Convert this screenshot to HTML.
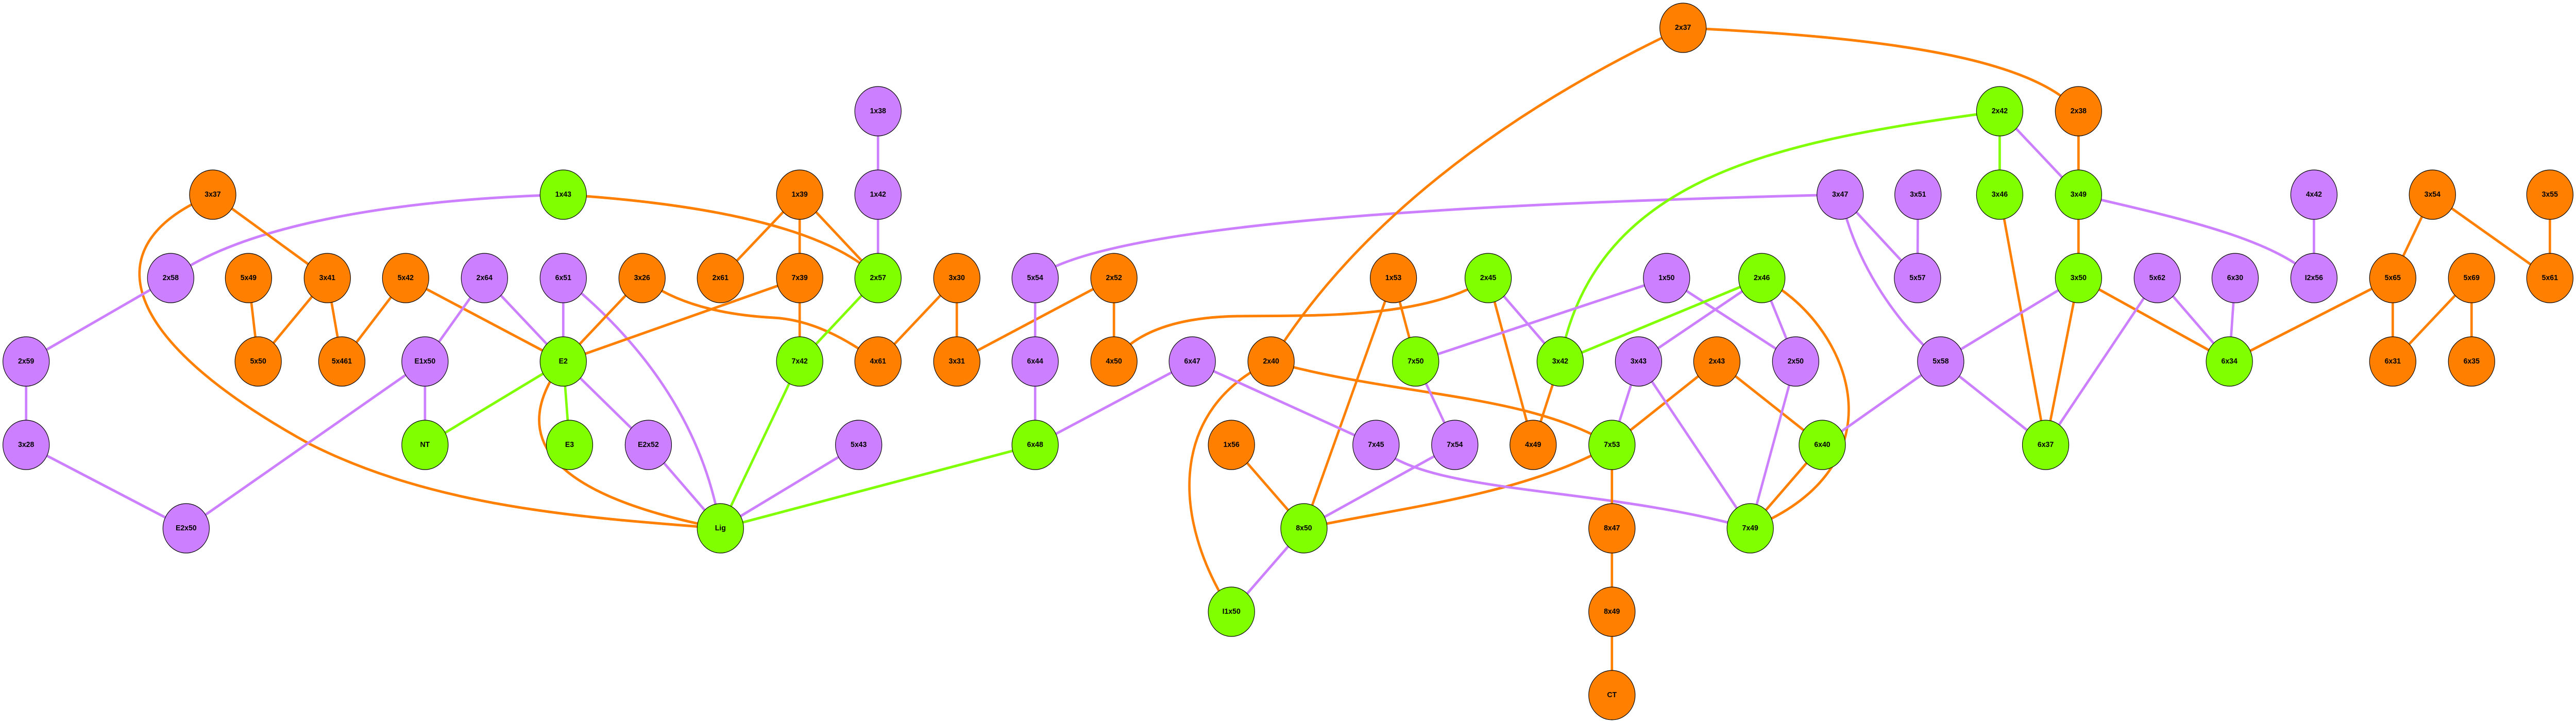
<!DOCTYPE html>
<html><head><meta charset="utf-8"><style>
html,body{margin:0;padding:0;background:#fff;width:100%;height:100%;overflow:hidden;}
svg{display:block;position:fixed;left:0;top:0;width:100vw;height:100vh;}
text{font-family:"Liberation Sans",Arial,sans-serif;font-weight:bold;font-size:15px;text-anchor:middle;dominant-baseline:central;fill:#000;}
.o{stroke:#ff7f00;stroke-width:5;fill:none;}
.p{stroke:#cc80ff;stroke-width:5;fill:none;}
.g{stroke:#80ff00;stroke-width:5;fill:none;}
circle{stroke:#000;stroke-width:1.2;}
</style></head><body>
<svg viewBox="0 0 5328 1408" preserveAspectRatio="none" xmlns="http://www.w3.org/2000/svg">
<g id="edges">
<path class="o" d="M440,378 C200,470 230,650 640,862 C900,985 1200,1005 1490,1026"/>
<path class="o" d="M1165,378 C1400,392 1700,430 1816,540"/>
<path class="p" d="M1165,378 C800,388 500,440 353,540"/>
<path class="o" d="M1328,540 C1400,592 1500,612 1600,617 C1700,622 1780,680 1816,702"/>
<path class="o" d="M1165,702 C1060,832 1100,955 1490,1026"/>
<path class="p" d="M1165,540 C1300,642 1450,800 1490,1026"/>
<path class="p" d="M2141,540 C2300,422 3200,392 3806,378"/>
<path class="o" d="M3078,540 C2950,622 2700,612 2560,614 C2420,616 2340,652 2304,702"/>
<path class="o" d="M3481,54 C3100,222 2800,442 2629,702"/>
<path class="o" d="M3481,54 C3900,72 4200,112 4299,216"/>
<path class="o" d="M2629,702 C2420,792 2420,1005 2547,1188"/>
<path class="o" d="M2629,702 C2900,772 3150,762 3334,864"/>
<path class="o" d="M3334,864 C3150,962 2900,985 2697,1026"/>
<path class="o" d="M3644,540 C3820,622 3950,900 3620,1026"/>
<path class="p" d="M2846,864 C2950,962 3300,942 3620,1026"/>
<path class="g" d="M4136,216 C3700,272 3300,332 3227,702"/>
<path class="p" d="M3806,378 C3840,522 3930,632 4014,702"/>
<path class="p" d="M4299,378 C4500,422 4700,462 4786,540"/>
<path class="o" d="M440,378L677,540 M677,540L534,702 M677,540L707,702 M514,540L534,702 M839,540L707,702 M839,540L1165,702 M1328,540L1165,702 M1654,540L1165,702
M1654,378L1490,540 M1654,378L1654,540 M1654,378L1816,540 M1654,540L1654,702 M1979,540L1816,702 M1979,540L1979,702 M2304,540L1979,702 M2304,540L2304,702
M2547,864L2697,1026 M2882,540L2928,702 M2882,540L2697,1026 M3078,540L3171,864 M3227,702L3171,864 M3551,702L3334,864 M3551,702L3769,864
M3334,864L3334,1026 M3334,1026L3334,1188 M3334,1188L3334,1350 M3769,864L3620,1026 M4299,216L4299,378 M4299,378L4299,540
M4136,378L4231,864 M4299,540L4231,864 M4299,540L4611,702 M4949,540L4611,702 M5031,378L4949,540 M5031,378L5274,540 M5274,378L5274,540
M4949,540L4949,702 M5112,540L4949,702 M5112,540L5112,702"/>
<path class="p" d="M353,540L54,702 M54,702L54,864 M54,864L385,1026 M879,702L385,1026 M1002,540L879,702 M1002,540L1165,702 M1165,540L1165,702
M879,702L879,864 M1165,702L1341,864 M1341,864L1490,1026 M1816,216L1816,378 M1816,378L1816,540 M1776,864L1490,1026
M2141,540L2141,702 M2141,702L2141,864 M2466,702L2141,864 M2466,702L2846,864 M2928,702L3447,540 M2928,702L3009,864 M3009,864L2697,1026
M2697,1026L2547,1188 M3078,540L3227,702 M3447,540L3714,702 M3644,540L3389,702 M3644,540L3714,702 M3389,702L3334,864 M3389,702L3620,1026
M3714,702L3620,1026 M3806,378L3966,540 M3967,378L3966,540 M4014,702L3769,864 M4014,702L4299,540 M4014,702L4231,864 M4136,216L4299,378
M4786,378L4786,540 M4462,540L4611,702 M4462,540L4231,864 M4623,540L4611,702"/>
<path class="g" d="M1165,702L879,864 M1165,702L1178,864 M1816,540L1654,702 M1654,702L1490,1026 M2141,864L1490,1026 M4136,216L4136,378 M3644,540L3227,702"/>
</g>
<g id="nodes">
<g fill="#ff7f00">
<circle cx="440" cy="378" r="48"/><circle cx="514" cy="540" r="48"/><circle cx="677" cy="540" r="48"/><circle cx="839" cy="540" r="48"/>
<circle cx="1328" cy="540" r="48"/><circle cx="534" cy="702" r="48"/><circle cx="707" cy="702" r="48"/>
<circle cx="1654" cy="378" r="48"/><circle cx="1490" cy="540" r="48"/><circle cx="1654" cy="540" r="48"/><circle cx="1979" cy="540" r="48"/>
<circle cx="2304" cy="540" r="48"/><circle cx="1816" cy="702" r="48"/><circle cx="1979" cy="702" r="48"/><circle cx="2304" cy="702" r="48"/>
<circle cx="2629" cy="702" r="48"/><circle cx="2547" cy="864" r="48"/><circle cx="3481" cy="54" r="48"/><circle cx="2882" cy="540" r="48"/>
<circle cx="3551" cy="702" r="48"/><circle cx="3171" cy="864" r="48"/><circle cx="3334" cy="1026" r="48"/><circle cx="3334" cy="1188" r="48"/>
<circle cx="3334" cy="1350" r="48"/><circle cx="4299" cy="216" r="48"/><circle cx="5031" cy="378" r="48"/><circle cx="5274" cy="378" r="48"/>
<circle cx="4949" cy="540" r="48"/><circle cx="5112" cy="540" r="48"/><circle cx="5274" cy="540" r="48"/><circle cx="4949" cy="702" r="48"/>
<circle cx="5112" cy="702" r="48"/>
</g>
<g fill="#cc80ff">
<circle cx="353" cy="540" r="48"/><circle cx="1002" cy="540" r="48"/><circle cx="1165" cy="540" r="48"/><circle cx="54" cy="702" r="48"/>
<circle cx="879" cy="702" r="48"/><circle cx="54" cy="864" r="48"/><circle cx="1341" cy="864" r="48"/><circle cx="385" cy="1026" r="48"/>
<circle cx="1816" cy="216" r="48"/><circle cx="1816" cy="378" r="48"/><circle cx="2141" cy="540" r="48"/><circle cx="2141" cy="702" r="48"/>
<circle cx="2466" cy="702" r="48"/><circle cx="1776" cy="864" r="48"/><circle cx="3447" cy="540" r="48"/><circle cx="3806" cy="378" r="48"/>
<circle cx="3967" cy="378" r="48"/><circle cx="3966" cy="540" r="48"/><circle cx="3389" cy="702" r="48"/><circle cx="3714" cy="702" r="48"/>
<circle cx="2846" cy="864" r="48"/><circle cx="3009" cy="864" r="48"/><circle cx="4014" cy="702" r="48"/><circle cx="4786" cy="378" r="48"/>
<circle cx="4462" cy="540" r="48"/><circle cx="4623" cy="540" r="48"/><circle cx="4786" cy="540" r="48"/>
</g>
<g fill="#80ff00">
<circle cx="1165" cy="378" r="48"/><circle cx="1165" cy="702" r="48"/><circle cx="879" cy="864" r="48"/><circle cx="1178" cy="864" r="48"/>
<circle cx="1816" cy="540" r="48"/><circle cx="1654" cy="702" r="48"/><circle cx="1490" cy="1026" r="48"/><circle cx="2141" cy="864" r="48"/>
<circle cx="2547" cy="1188" r="48"/><circle cx="3078" cy="540" r="48"/><circle cx="3644" cy="540" r="48"/><circle cx="2928" cy="702" r="48"/>
<circle cx="3227" cy="702" r="48"/><circle cx="3334" cy="864" r="48"/><circle cx="3769" cy="864" r="48"/><circle cx="2697" cy="1026" r="48"/>
<circle cx="3620" cy="1026" r="48"/><circle cx="4136" cy="216" r="48"/><circle cx="4136" cy="378" r="48"/><circle cx="4299" cy="378" r="48"/>
<circle cx="4299" cy="540" r="48"/><circle cx="4611" cy="702" r="48"/><circle cx="4231" cy="864" r="48"/>
</g>
</g>
<g id="labels">
<text x="440" y="378">3x37</text><text x="514" y="540">5x49</text><text x="677" y="540">3x41</text><text x="839" y="540">5x42</text>
<text x="1328" y="540">3x26</text><text x="534" y="702">5x50</text><text x="707" y="702">5x461</text>
<text x="1654" y="378">1x39</text><text x="1490" y="540">2x61</text><text x="1654" y="540">7x39</text><text x="1979" y="540">3x30</text>
<text x="2304" y="540">2x52</text><text x="1816" y="702">4x61</text><text x="1979" y="702">3x31</text><text x="2304" y="702">4x50</text>
<text x="2629" y="702">2x40</text><text x="2547" y="864">1x56</text><text x="3481" y="54">2x37</text><text x="2882" y="540">1x53</text>
<text x="3551" y="702">2x43</text><text x="3171" y="864">4x49</text><text x="3334" y="1026">8x47</text><text x="3334" y="1188">8x49</text>
<text x="3334" y="1350">CT</text><text x="4299" y="216">2x38</text><text x="5031" y="378">3x54</text><text x="5274" y="378">3x55</text>
<text x="4949" y="540">5x65</text><text x="5112" y="540">5x69</text><text x="5274" y="540">5x61</text><text x="4949" y="702">6x31</text>
<text x="5112" y="702">6x35</text>
<text x="353" y="540">2x58</text><text x="1002" y="540">2x64</text><text x="1165" y="540">6x51</text><text x="54" y="702">2x59</text>
<text x="879" y="702">E1x50</text><text x="54" y="864">3x28</text><text x="1341" y="864">E2x52</text><text x="385" y="1026">E2x50</text>
<text x="1816" y="216">1x38</text><text x="1816" y="378">1x42</text><text x="2141" y="540">5x54</text><text x="2141" y="702">6x44</text>
<text x="2466" y="702">6x47</text><text x="1776" y="864">5x43</text><text x="3447" y="540">1x50</text><text x="3806" y="378">3x47</text>
<text x="3967" y="378">3x51</text><text x="3966" y="540">5x57</text><text x="3389" y="702">3x43</text><text x="3714" y="702">2x50</text>
<text x="2846" y="864">7x45</text><text x="3009" y="864">7x54</text><text x="4014" y="702">5x58</text><text x="4786" y="378">4x42</text>
<text x="4462" y="540">5x62</text><text x="4623" y="540">6x30</text><text x="4786" y="540">I2x56</text>
<text x="1165" y="378">1x43</text><text x="1165" y="702">E2</text><text x="879" y="864">NT</text><text x="1178" y="864">E3</text>
<text x="1816" y="540">2x57</text><text x="1654" y="702">7x42</text><text x="1490" y="1026">Lig</text><text x="2141" y="864">6x48</text>
<text x="2547" y="1188">I1x50</text><text x="3078" y="540">2x45</text><text x="3644" y="540">2x46</text><text x="2928" y="702">7x50</text>
<text x="3227" y="702">3x42</text><text x="3334" y="864">7x53</text><text x="3769" y="864">6x40</text><text x="2697" y="1026">8x50</text>
<text x="3620" y="1026">7x49</text><text x="4136" y="216">2x42</text><text x="4136" y="378">3x46</text><text x="4299" y="378">3x49</text>
<text x="4299" y="540">3x50</text><text x="4611" y="702">6x34</text><text x="4231" y="864">6x37</text>
</g>
</svg>
</body></html>
